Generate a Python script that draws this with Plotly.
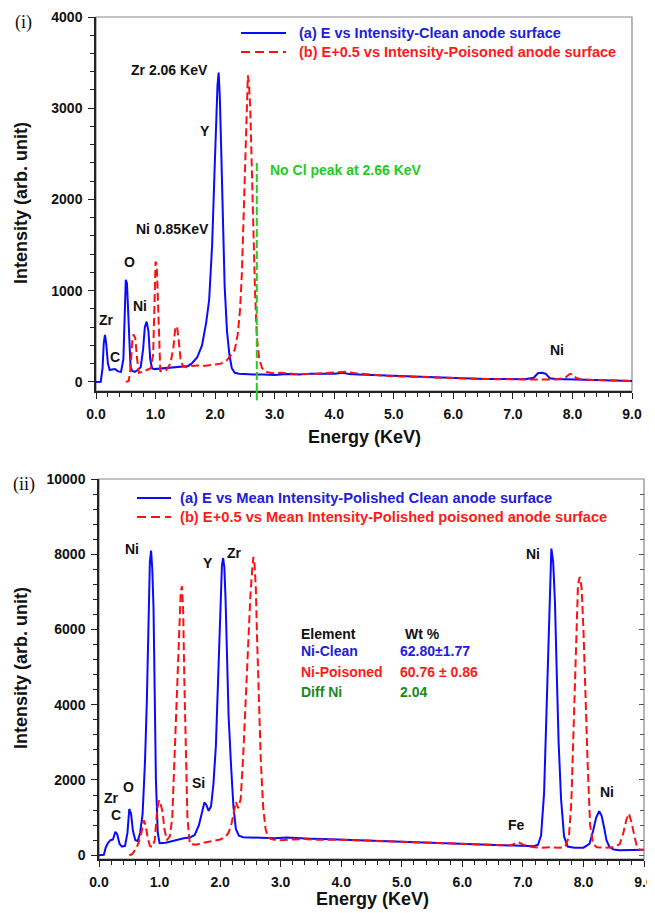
import plotly.graph_objects as go

# ---------------- data ----------------
# Panel (i): EDS spectra, clean vs poisoned (poisoned plotted at E+0.5)
top_clean_e = [0.00, 0.08, 0.11, 0.13, 0.15, 0.17, 0.20, 0.23, 0.27, 0.32, 0.37, 0.42, 0.46, 0.48,
               0.50, 0.52, 0.54, 0.56, 0.58, 0.61, 0.65, 0.70, 0.75, 0.79, 0.82, 0.85, 0.88, 0.91,
               0.94, 0.98, 1.05, 1.15, 1.25, 1.35, 1.45, 1.55, 1.62, 1.70, 1.78, 1.85, 1.90, 1.95,
               1.99, 2.02, 2.04, 2.06, 2.08, 2.10, 2.13, 2.16, 2.20, 2.24, 2.28, 2.33, 2.40, 2.50,
               2.65, 2.80, 3.00, 3.20, 3.40, 3.60, 3.80, 4.00, 4.15, 4.25, 4.40, 4.60, 4.80, 5.00,
               5.20, 5.40, 5.60, 5.80, 6.00, 6.20, 6.40, 6.60, 6.80, 7.00, 7.20, 7.35, 7.42, 7.48,
               7.55, 7.62, 7.75, 7.90, 8.10, 8.30, 8.50, 8.70, 8.90, 9.00]
top_clean_i = [0, 2, 150, 420, 515, 430, 200, 130, 135, 140, 115, 110, 250, 700,
               1120, 1080, 700, 350, 160, 120, 110, 130, 160, 350, 600, 660, 560, 250,
               150, 140, 145, 150, 160, 165, 170, 175, 210, 270, 400, 650, 900, 1500,
               2300, 3000, 3250, 3390, 3100, 2600, 1700, 1050, 550, 300, 150, 100, 90, 85,
               82, 80, 75, 85, 80, 88, 85, 90, 100, 85, 80, 75, 70, 62,
               60, 55, 50, 45, 42, 40, 35, 32, 30, 28, 30, 45, 95, 100,
               90, 40, 30, 28, 25, 22, 18, 15, 12, 10]

top_pois_e = [0.50, 0.55, 0.58, 0.61, 0.63, 0.66, 0.69, 0.72, 0.78, 0.85, 0.92, 0.96, 0.98, 1.00,
              1.02, 1.04, 1.06, 1.08, 1.12, 1.18, 1.25, 1.30, 1.33, 1.36, 1.39, 1.42, 1.46, 1.52,
              1.60, 1.70, 1.80, 1.90, 2.00, 2.10, 2.20, 2.27, 2.33, 2.38, 2.42, 2.45, 2.48, 2.51,
              2.53, 2.55, 2.57, 2.59, 2.61, 2.64, 2.67, 2.70, 2.74, 2.79, 2.86, 2.95, 3.10, 3.30,
              3.50, 3.70, 3.90, 4.05, 4.20, 4.35, 4.50, 4.70, 4.90, 5.10, 5.30, 5.50, 5.70, 5.90,
              6.10, 6.30, 6.50, 6.70, 6.90, 7.10, 7.30, 7.50, 7.70, 7.88, 7.95, 8.00, 8.06, 8.15,
              8.30, 8.50, 8.70, 8.90, 9.00]
top_pois_i = [0, 10, 150, 450, 520, 480, 250, 100, 110, 130, 150, 300, 900, 1320,
              1280, 900, 400, 120, 110, 130, 200, 380, 580, 610, 450, 250, 170, 160,
              175, 180, 175, 185, 190, 200, 240, 300, 350, 520, 800, 1200, 1900, 2600,
              3100, 3360, 3250, 3000, 2500, 1700, 1000, 500, 250, 150, 110, 95, 100, 90,
              85, 90, 95, 100, 110, 95, 85, 75, 65, 60, 55, 50, 45, 42,
              38, 35, 32, 30, 28, 25, 22, 22, 25, 45, 85, 88, 45, 25,
              20, 18, 15, 12, 10]

no_cl_line_e = 2.70
no_cl_line_top = 2400

# Panel (ii): polished surfaces
bot_clean_e = [0.00, 0.08, 0.11, 0.15, 0.19, 0.23, 0.27, 0.30, 0.34, 0.38, 0.43, 0.47, 0.50, 0.53,
               0.56, 0.60, 0.64, 0.68, 0.72, 0.76, 0.79, 0.82, 0.84, 0.86, 0.88, 0.90, 0.92, 0.94,
               0.97, 1.00, 1.10, 1.20, 1.30, 1.40, 1.50, 1.58, 1.65, 1.70, 1.74, 1.77, 1.81, 1.85,
               1.89, 1.93, 1.97, 2.00, 2.03, 2.05, 2.07, 2.09, 2.11, 2.14, 2.18, 2.22, 2.26, 2.31,
               2.38, 2.50, 2.70, 2.90, 3.10, 3.30, 3.50, 3.70, 3.90, 4.10, 4.30, 4.50, 4.70, 4.90,
               5.10, 5.30, 5.50, 5.70, 5.90, 6.10, 6.30, 6.50, 6.70, 6.90, 7.05, 7.18, 7.25, 7.30,
               7.35, 7.39, 7.42, 7.45, 7.47, 7.50, 7.53, 7.56, 7.59, 7.63, 7.68, 7.74, 7.85, 8.00,
               8.10, 8.16, 8.21, 8.26, 8.30, 8.34, 8.38, 8.43, 8.50, 8.60, 8.70, 8.80, 8.90, 9.00]
bot_clean_i = [0, 10, 200, 330, 400, 420, 620, 560, 300, 230, 250, 600, 1230, 1100,
               650, 400, 380, 600, 1100, 2500, 4100, 6300, 7800, 8100, 7600, 6600, 4300, 2000,
               600, 320, 330, 370, 420, 450, 470, 540, 800, 1150, 1400, 1350, 1180, 1300,
               1900, 2900, 4800, 6800, 7700, 7900, 7650, 6800, 5500, 3700, 2400, 1300, 700, 520,
               480, 470, 460, 450, 470, 450, 440, 430, 420, 410, 400, 390, 380, 370,
               360, 350, 340, 330, 320, 310, 300, 290, 280, 260, 250, 240, 280, 520,
               1650, 3800, 5800, 7400, 8150, 7800, 6700, 4800, 3000, 1500, 500, 230, 200, 200,
               300, 650, 1000, 1170, 1050, 750, 400, 220, 150, 130, 130, 140, 140, 145]

bot_pois_e = [0.50, 0.55, 0.60, 0.65, 0.70, 0.74, 0.77, 0.80, 0.84, 0.88, 0.92, 0.96, 0.99, 1.02,
              1.05, 1.08, 1.12, 1.17, 1.21, 1.25, 1.29, 1.32, 1.35, 1.37, 1.39, 1.41, 1.43, 1.46,
              1.50, 1.60, 1.70, 1.80, 1.90, 2.00, 2.08, 2.14, 2.19, 2.23, 2.26, 2.30, 2.34, 2.38,
              2.42, 2.46, 2.50, 2.53, 2.55, 2.57, 2.59, 2.61, 2.64, 2.67, 2.71, 2.75, 2.79, 2.84,
              2.90, 3.00, 3.20, 3.40, 3.60, 3.80, 4.00, 4.20, 4.40, 4.60, 4.80, 5.00, 5.20, 5.40,
              5.60, 5.80, 6.00, 6.20, 6.40, 6.60, 6.80, 6.92, 7.02, 7.15, 7.30, 7.45, 7.60, 7.70,
              7.76, 7.80, 7.84, 7.88, 7.91, 7.94, 7.97, 8.00, 8.03, 8.07, 8.11, 8.16, 8.22, 8.35,
              8.50, 8.60, 8.66, 8.71, 8.75, 8.79, 8.83, 8.88, 8.93, 9.00]
bot_pois_i = [0, 30, 150, 310, 600, 930, 800, 500, 250, 220, 400, 1200, 1460, 1350,
              1150, 700, 400, 500, 1000, 2700, 4800, 6200, 7000, 7150, 6500, 4600, 2800, 1000,
              300, 280, 320, 350, 380, 420, 480, 600, 850, 1200, 1420, 1250, 1500, 2600,
              4000, 5600, 6900, 7600, 7930, 7700, 7100, 5800, 4000, 2600, 1300, 700, 480, 430,
              410, 400, 420, 430, 410, 420, 410, 400, 390, 380, 370, 360, 350, 340,
              320, 310, 300, 290, 280, 270, 260, 350, 270, 220, 200, 210, 200, 220,
              490, 1400, 3500, 6000, 7200, 7400, 7100, 6000, 4300, 2400, 800, 300, 210, 200,
              210, 300, 600, 950, 1110, 900, 600, 250, 150, 140]

top_legend = ["(a) E vs Intensity-Clean anode surface",
              "(b) E+0.5 vs Intensity-Poisoned anode surface"]
bot_legend = ["(a) E vs Mean Intensity-Polished Clean anode surface",
              "(b) E+0.5 vs Mean Intensity-Polished poisoned anode surface"]

top_labels = [("Zr 2.06 KeV", 1.23, 3420), ("Y", 1.83, 2750), ("Ni 0.85KeV", 1.28, 1680),
              ("O", 0.57, 1315), ("Ni", 0.74, 833), ("Zr", 0.17, 680), ("C", 0.32, 274),
              ("Ni", 7.74, 350)]
bot_labels = [("Ni", 0.54, 8140), ("Y", 1.80, 7770), ("Zr", 2.23, 8030), ("Ni", 7.17, 8010),
              ("Zr", 0.21, 1520), ("C", 0.28, 1060), ("O", 0.49, 1810), ("Si", 1.65, 1915),
              ("Fe", 6.89, 800), ("Ni", 8.39, 1680)]

table_rows = [("Element", "Wt %"), ("Ni-Clean", "62.80±1.77"),
              ("Ni-Poisoned", "60.76 ± 0.86"), ("Diff Ni", "2.04")]
table_colors = ["#111111", "#2020d8", "#ff1a1a", "#1a8a1a"]
table_y = [5880, 5430, 4870, 4340]

# ---------------- styling ----------------
W, H = 655, 913
OFF = 8  # the page body adds an 8px margin; place everything 8px up/left
BLUE = "#0a0aff"
RED = "#ff1010"
FONT = "Liberation Sans, Arial, sans-serif"
BLUE_TXT = "#2020d8"


def px_x(p):
    return (p - OFF) / W


def px_y(p):
    return 1 - (p - OFF) / H


fig = go.Figure()

fig.add_trace(go.Scatter(x=top_clean_e, y=top_clean_i, mode="lines", xaxis="x", yaxis="y",
                         line=dict(color=BLUE, width=2), name=top_legend[0], showlegend=False))
fig.add_trace(go.Scatter(x=top_pois_e, y=top_pois_i, mode="lines", xaxis="x", yaxis="y",
                         line=dict(color=RED, width=2, dash="8px,4px"), name=top_legend[1],
                         showlegend=False))
fig.add_trace(go.Scatter(x=bot_clean_e, y=bot_clean_i, mode="lines", xaxis="x2", yaxis="y2",
                         line=dict(color=BLUE, width=2), name=bot_legend[0], showlegend=False))
fig.add_trace(go.Scatter(x=bot_pois_e, y=bot_pois_i, mode="lines", xaxis="x2", yaxis="y2",
                         line=dict(color=RED, width=2, dash="8px,4px"), name=bot_legend[1],
                         showlegend=False))
# invisible trace to activate right-side tick axis of panel (ii)
fig.add_trace(go.Scatter(x=[0], y=[0], mode="markers", xaxis="x2", yaxis="y3",
                         marker=dict(opacity=0), showlegend=False, hoverinfo="skip"))

tickfont = dict(family=FONT, size=14, color="#111111", weight="bold")
axis_common = dict(showgrid=False, zeroline=False, showline=True, linecolor="#222222",
                   linewidth=1.5, ticks="outside", ticklen=6, tickwidth=1.2,
                   tickcolor="#222222", tickfont=tickfont, ticklabelstandoff=3,
                   automargin=False)

dom_top_x = [px_x(96), px_x(632)]
dom_top_y = [px_y(391), px_y(17)]
dom_bot_x = [px_x(99), px_x(644)]
dom_bot_y = [px_y(859), px_y(479)]

fig.update_layout(
    width=W, height=H, margin=dict(l=0, r=0, t=0, b=0, pad=0, autoexpand=False),
    paper_bgcolor="white", plot_bgcolor="white",
    xaxis=dict(domain=dom_top_x, anchor="y", range=[0, 9], dtick=1, tick0=0,
               tickformat=".1f", minor=dict(dtick=0.2, ticks="outside", ticklen=4,
                                             tickcolor="#222222"), **axis_common),
    yaxis=dict(domain=dom_top_y, anchor="x", range=[-100, 4000], dtick=1000, tick0=0,
               tickformat="d",
               minor=dict(dtick=200, ticks="outside", ticklen=4, tickcolor="#222222"),
               **axis_common),
    xaxis2=dict(domain=dom_bot_x, anchor="y2", range=[0, 9], dtick=1, tick0=0,
                tickformat=".1f", minor=dict(dtick=0.2, ticks="outside", ticklen=4,
                                              tickcolor="#222222"), **axis_common),
    yaxis2=dict(domain=dom_bot_y, anchor="x2", range=[-100, 10000], dtick=2000, tick0=0,
                tickformat="d",
                minor=dict(dtick=400, ticks="outside", ticklen=4, tickcolor="#222222"),
                **axis_common),
    yaxis3=dict(overlaying="y2", side="right", anchor="x2", range=[-100, 10000], dtick=2000,
                tick0=0, showgrid=False, zeroline=False, showline=False, ticks="inside",
                ticklen=5, tickcolor="#555555", showticklabels=False, automargin=False,
                minor=dict(dtick=400, ticks="inside", ticklen=4, tickcolor="#555555")),
)

shapes = []
# gray frames (top & right)
for xr, yr in (("x", "y"), ("x2", "y2")):
    shapes.append(dict(type="rect", xref=xr + " domain", yref=yr + " domain", x0=0, x1=1,
                       y0=0, y1=1, line=dict(color="#888888", width=1.2), layer="below"))
# green "No Cl" dashed line (extends a little below the axis)
shapes.append(dict(type="line", xref="x", yref="y", x0=no_cl_line_e, x1=no_cl_line_e,
                   y0=-100, y1=no_cl_line_top, line=dict(color="#22cc22", width=2, dash="8px,3px")))
shapes.append(dict(type="line", xref="x", yref="y domain", x0=no_cl_line_e, x1=no_cl_line_e,
                   y0=-0.025, y1=0, line=dict(color="#22cc22", width=2)))


# manual legends: sample lines
def legend_lines(x0p, x1p, y_blue, y_red):
    shapes.append(dict(type="line", xref="paper", yref="paper", x0=px_x(x0p), x1=px_x(x1p),
                       y0=px_y(y_blue), y1=px_y(y_blue), line=dict(color=BLUE, width=2)))
    shapes.append(dict(type="line", xref="paper", yref="paper", x0=px_x(x0p), x1=px_x(x1p),
                       y0=px_y(y_red), y1=px_y(y_red),
                       line=dict(color=RED, width=2, dash="9px,5px")))


legend_lines(241, 286, 33, 52)
legend_lines(137, 171, 498, 517)

ann = []


def txt(text, x, y, xref, yref, size=14, color="#111111", xanchor="center", family=FONT,
        weight="bold", textangle=0):
    ann.append(dict(text=text, x=x, y=y, xref=xref, yref=yref, showarrow=False,
                    xanchor=xanchor, yanchor="middle", textangle=textangle,
                    font=dict(family=family, size=size, color=color, weight=weight)))


# legend texts
txt(top_legend[0], px_x(297), px_y(33), "paper", "paper", 14.5, BLUE_TXT, "left")
txt(top_legend[1], px_x(297), px_y(52), "paper", "paper", 14.5, "#ff1a1a", "left")
txt(bot_legend[0], px_x(178), px_y(498), "paper", "paper", 14.7, BLUE_TXT, "left")
txt(bot_legend[1], px_x(178), px_y(517), "paper", "paper", 14.7, "#ff1a1a", "left")

# peak labels
for t, x, y in top_labels:
    txt(t, x, y, "x", "y")
for t, x, y in bot_labels:
    txt(t, x, y, "x2", "y2")
txt("No Cl peak at 2.66 KeV", 2.89, 2320, "x", "y", 14, "#22cc22", "left")

# table
for (a, b), c, yv in zip(table_rows, table_colors, table_y):
    txt(a, 3.31, yv, "x2", "y2", 14, c, "left")
    if a == "Element":
        txt(b, 5.34, yv, "x2", "y2", 14, c, "center")
    else:
        txt(b, 4.93, yv, "x2", "y2", 14, c, "left")

# panel tags
txt("(i)", px_x(23), px_y(22), "paper", "paper", 18, "#111111", family="Liberation Serif, serif",
    weight="normal")
txt("(ii)", px_x(24), px_y(484), "paper", "paper", 18, "#111111",
    family="Liberation Serif, serif", weight="normal")

# axis titles
txt("Intensity (arb. unit)", px_x(21), px_y(203), "paper", "paper", 18, textangle=-90)
txt("Energy (KeV)", px_x(364), px_y(437), "paper", "paper", 18)
txt("Intensity (arb. unit)", px_x(21), px_y(668), "paper", "paper", 18, textangle=-90)
txt("Energy (KeV)", px_x(372), px_y(899), "paper", "paper", 18)

fig.update_layout(shapes=shapes, annotations=ann)

fig.write_html("out.html")
